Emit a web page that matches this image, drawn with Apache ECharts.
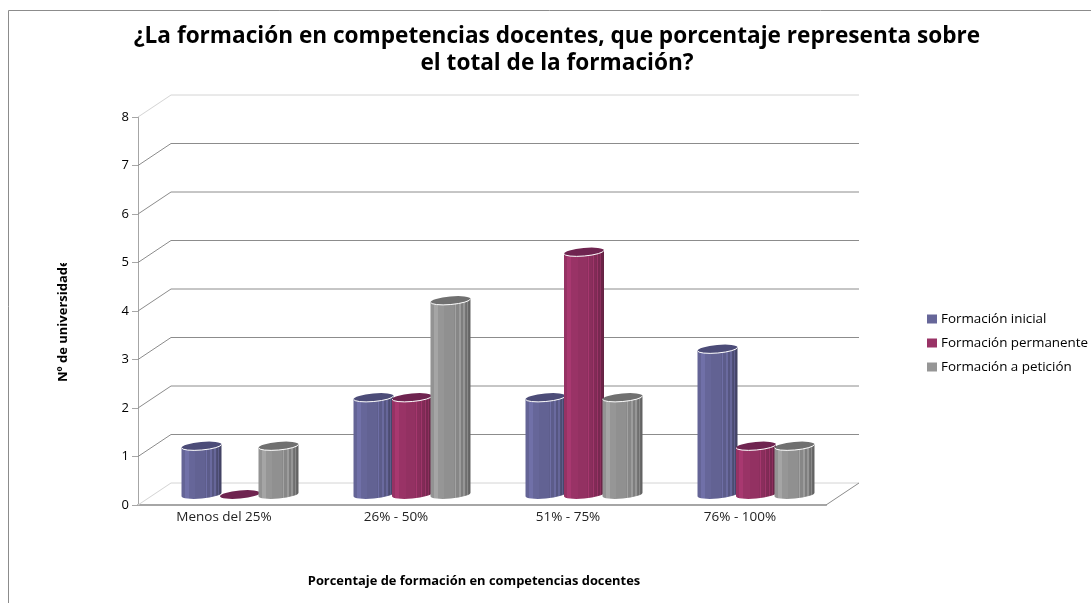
<!DOCTYPE html>
<html>
<head>
<meta charset="utf-8">
<title>Formación en competencias docentes</title>
<script src="https://cdn.jsdelivr.net/npm/echarts@6/dist/echarts.min.js"></script>
<style>
    html, body { margin: 0; padding: 0; background: #fff; }
    #chart { width: 1091px; height: 603px; }
</style>
</head>
<body>
<div id="chart"></div>
<script>
// data
var categories = ['Menos del 25%', '26% - 50%', '51% - 75%', '76% - 100%'];
var inicial = [1, 2, 2, 3];
var permanente = [0, 2, 5, 1];
var peticion = [1, 4, 2, 1];
var yTicks = [0, 1, 2, 3, 4, 5, 6, 7, 8];

var seriesNames = ['Formación inicial', 'Formación permanente', 'Formación a petición'];
var seriesValues = [inicial, permanente, peticion];
var bodyColors = ['#666699', '#993366', '#969696'];
var capColors = ['#4c4c78', '#6f2450', '#707070'];

var FONT = '"Open Sans", sans-serif';
var DEPTH_X = 33, DEPTH_Y = 22;      // back wall offset
var BAR_RX = 20, BAR_RY = 4, BAR_TILT = -5;

// vertical stripes of the old excel 3d cylinders
function stripes(hex) {
    function shade(k) {
        var n = parseInt(hex.slice(1), 16);
        var r = Math.min(255, Math.round((n >> 16) * k));
        var g = Math.min(255, Math.round(((n >> 8) & 255) * k));
        var b = Math.min(255, Math.round((n & 255) * k));
        return 'rgb(' + r + ',' + g + ',' + b + ')';
    }
    var bands = [
        [0, 0.98], [0.08, 1.1], [0.18, 1.0], [0.35, 0.96], [0.58, 0.92], [0.6, 1.08], [0.63, 0.9],
        [0.7, 0.87], [0.72, 1.04], [0.75, 0.84], [0.8, 0.82], [0.82, 1.0], [0.85, 0.78],
        [0.89, 0.74], [0.91, 0.92], [0.93, 0.7], [0.97, 0.66]
    ];
    var stops = [];
    bands.forEach(function (b, i) {
        var end = i + 1 < bands.length ? bands[i + 1][0] : 1;
        stops.push({ offset: b[0], color: shade(b[1]) });
        stops.push({ offset: end, color: shade(b[1]) });
    });
    return new echarts.graphic.LinearGradient(0, 0, 1, 0, stops);
}

function ellipseData(cx, cy) {
    var dy = BAR_RX * Math.sin(-BAR_TILT * Math.PI / 180);
    return 'M' + (cx - BAR_RX) + ' ' + (cy + dy)
        + 'A' + BAR_RX + ' ' + BAR_RY + ' ' + BAR_TILT + ' 1 1 ' + (cx + BAR_RX) + ' ' + (cy - dy)
        + 'A' + BAR_RX + ' ' + BAR_RY + ' ' + BAR_TILT + ' 1 1 ' + (cx - BAR_RX) + ' ' + (cy + dy) + 'Z';
}

// lower half of the top ellipse, the white rim
function rimData(cx, cy) {
    var dy = BAR_RX * Math.sin(-BAR_TILT * Math.PI / 180);
    return 'M' + (cx - BAR_RX) + ' ' + (cy + dy)
        + 'A' + BAR_RX + ' ' + BAR_RY + ' ' + BAR_TILT + ' 0 0 ' + (cx + BAR_RX) + ' ' + (cy - dy);
}

function cylinder(seriesIndex) {
    return function (params, api) {
        var band = api.size([1, 0])[0];
        var value = api.value(1);
        var top = api.coord([api.value(0), value]);
        var base = api.coord([api.value(0), 0]);
        var cx = top[0] + 16 + (seriesIndex - 1) * band * 0.2238;
        var topY = top[1] - 10.5;
        var baseY = base[1] - 10.5;
        var dy = BAR_RX * Math.sin(-BAR_TILT * Math.PI / 180);
        var children = [];
        if (value > 0) {
            var body = 'M' + (cx - BAR_RX) + ' ' + (topY + dy)
                + 'L' + (cx - BAR_RX) + ' ' + (baseY + dy)
                + 'A' + BAR_RX + ' ' + BAR_RY + ' ' + BAR_TILT + ' 0 0 ' + (cx + BAR_RX) + ' ' + (baseY - dy)
                + 'L' + (cx + BAR_RX) + ' ' + (topY - dy) + 'Z';
            children.push({
                type: 'path',
                shape: { pathData: body },
                style: { fill: stripes(bodyColors[seriesIndex]) }
            });
        }
        children.push({
            type: 'path',
            shape: { pathData: ellipseData(cx, topY) },
            style: { fill: capColors[seriesIndex] }
        });
        if (value > 0) {
            children.push({
                type: 'path',
                shape: { pathData: rimData(cx, topY) },
                style: { fill: null, stroke: '#fff', lineWidth: 1 }
            });
        }
        return { type: 'group', children: children };
    };
}

function wallLine(params, api) {
    var box = params.coordSys;
    var v = api.value(1);
    var y = api.coord([0, v])[1];
    var light = v === 0 || v === yTicks[yTicks.length - 1];
    var children = [{
        type: 'polyline',
        shape: {
            points: [
                [box.x, y],
                [box.x + DEPTH_X, y - DEPTH_Y],
                [box.x + box.width + DEPTH_X, y - DEPTH_Y]
            ]
        },
        style: { fill: null, stroke: light ? '#d4d4d4' : '#8c8c8c', lineWidth: 1 }
    }];
    if (v === 0) {
        children.push({
            type: 'line',
            shape: { x1: box.x + box.width, y1: y, x2: box.x + box.width + DEPTH_X, y2: y - DEPTH_Y },
            style: { stroke: '#8c8c8c', lineWidth: 1 }
        });
    }
    return { type: 'group', children: children };
}

var series = [{
    type: 'custom',
    silent: true,
    clip: false,
    z: 1,
    renderItem: wallLine,
    encode: { x: 0, y: 1 },
    data: yTicks.map(function (t) { return [0, t]; })
}];

seriesNames.forEach(function (name, i) {
    series.push({
        name: name,
        type: 'custom',
        clip: false,
        z: 2 + i,
        itemStyle: { color: bodyColors[i] },
        renderItem: cylinder(i),
        encode: { x: 0, y: 1 },
        data: seriesValues[i].map(function (v, c) { return [c, v]; })
    });
});

var chart = echarts.init(document.getElementById('chart'));

var option = {
    animation: false,
    backgroundColor: '#fff',
    title: {
        text: '¿La formación en competencias docentes, que porcentaje representa sobre\nel total de la formación?',
        left: 552,
        top: 18,
        textAlign: 'center',
        textStyle: { fontFamily: FONT, fontSize: 22.6, fontWeight: 'bold', color: '#000', lineHeight: 27 }
    },
    legend: {
        data: seriesNames,
        orient: 'vertical',
        left: 922,
        top: 305,
        itemWidth: 10,
        itemHeight: 9,
        itemGap: 6,
        icon: 'rect',
        textStyle: { fontFamily: FONT, fontSize: 13.4, color: '#000', lineHeight: 18, padding: [0, 0, 0, -1] }
    },
    grid: { left: 138, right: 265, top: 117, bottom: 98 },
    xAxis: {
        type: 'category',
        data: categories,
        name: 'Porcentaje de formación en competencias docentes',
        nameLocation: 'middle',
        nameGap: 70,
        nameTextStyle: { fontFamily: FONT, fontSize: 12.9, fontWeight: 'bold', color: '#000', padding: [0, 16, 0, 0] },
        axisLine: { lineStyle: { color: '#a6a6a6', width: 2 } },
        axisTick: { show: false },
        axisLabel: { fontFamily: FONT, fontSize: 13.5, color: '#222', margin: 5 }
    },
    yAxis: {
        type: 'value',
        min: 0,
        max: 8,
        interval: 1,
        axisLine: { show: true, lineStyle: { color: '#a6a6a6', width: 1 } },
        axisTick: { show: true, length: 6, lineStyle: { color: '#a6a6a6' } },
        axisLabel: { fontFamily: FONT, fontSize: 13, color: '#000', margin: 9 },
        splitLine: { show: false }
    },
    graphic: [
        {
            type: 'polyline',
            shape: { points: [[8.5, 603], [8.5, 10.5], [1091, 10.5]] },
            style: { fill: null, stroke: '#8c8c8c', lineWidth: 1 }
        },
        {
            type: 'text',
            x: 63,
            y: 382,
            rotation: Math.PI / 2,
            style: {
                text: 'Nº de universidades',
                font: 'bold 13px "Open Sans", sans-serif',
                fill: '#000',
                align: 'left',
                verticalAlign: 'middle'
            }
        },
        // the name is cut off at the end in the original chart
        {
            type: 'rect',
            shape: { x: 50, y: 230, width: 26, height: 33 },
            style: { fill: '#fff' },
            z: 10
        }
    ],
    series: series
};

chart.setOption(option);
</script>
</body>
</html>
